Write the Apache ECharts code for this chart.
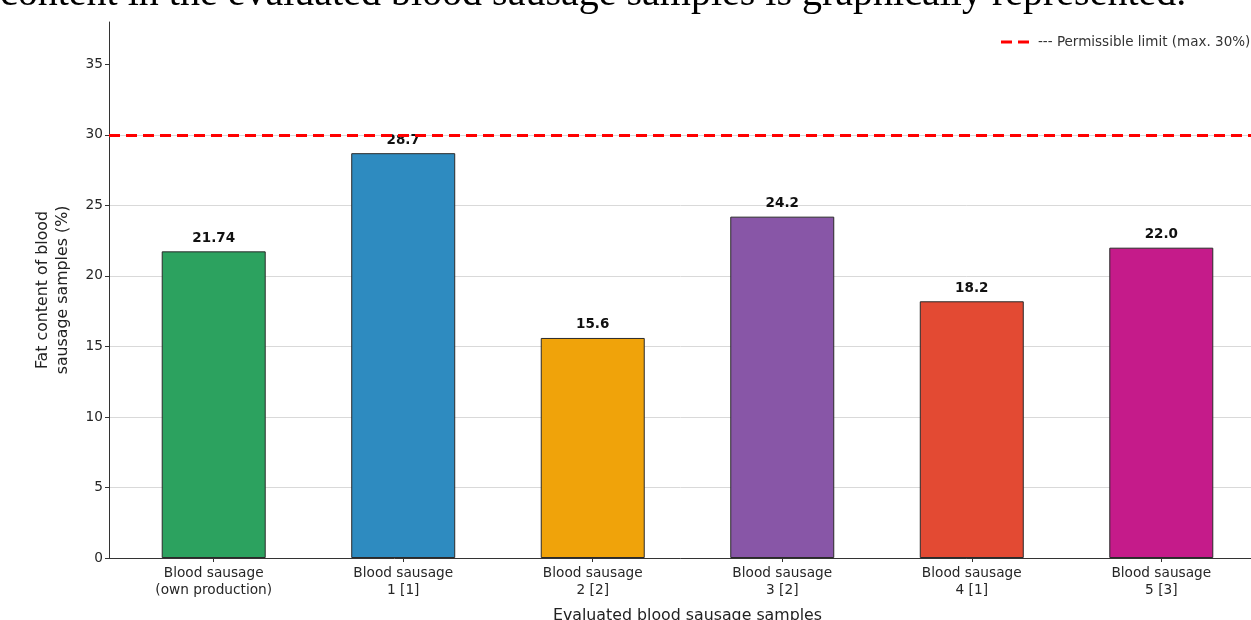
<!DOCTYPE html>
<html>
<head>
<meta charset="utf-8">
<script src="https://cdn.jsdelivr.net/npm/echarts@6/dist/echarts.min.js"></script>
<style>
  html, body { margin: 0; padding: 0; background: #fff; }
  #chart { width: 1251px; height: 620px; }
</style>
</head>
<body>
<div id="chart"></div>
<script>
// data
const categories = [
  'Blood sausage\n(own production)',
  'Blood sausage\n1 [1]',
  'Blood sausage\n2 [2]',
  'Blood sausage\n3 [2]',
  'Blood sausage\n4 [1]',
  'Blood sausage\n5 [3]'
]
const fatValues = [21.74, 28.7, 15.6, 24.2, 18.2, 22.0]
const valueLabels = ['21.74', '28.7', '15.6', '24.2', '18.2', '22.0']
const barColors = ['#2ca25f', '#2e8bc0', '#f0a30a', '#8856a7', '#e34a33', '#c51b8a']
const yTicks = [0, 5, 10, 15, 20, 25, 30, 35]
const limitValue = 30
const limitName = '--- Permissible limit (max. 30%)'

const font = 'DejaVu Sans'
const chart = echarts.init(document.getElementById('chart'))

chart.setOption({
  animation: false,
  textStyle: { fontFamily: font },
  graphic: [{
    type: 'text',
    left: 0,
    top: -26,
    style: {
      text: 'content in the evaluated blood sausage samples is graphically represented.',
      font: '40px "Liberation Serif"',
      fill: '#000'
    }
  }],
  legend: {
    left: 996,
    top: 30,
    itemWidth: 28,
    itemHeight: 3,
    textStyle: { fontFamily: font, fontSize: 13.5, color: '#333', padding: [0, 0, 0, 4] },
    data: [{ name: limitName, icon: 'path://M0,0H11V3H0Z M17,0H28V3H17Z', itemStyle: { color: '#ff0000' } }]
  },
  grid: { left: 109, right: -15, top: 22, bottom: 62, outerBoundsMode: 'none', containLabel: false },
  xAxis: {
    type: 'value',
    min: -0.5525,
    max: 5.5525,
    name: 'Evaluated blood sausage samples',
    nameLocation: 'middle',
    nameGap: 50,
    nameTextStyle: { fontSize: 15.8, color: '#222', fontFamily: font },
    axisLine: { onZero: false, lineStyle: { color: '#333', width: 1 } },
    axisTick: { show: true, length: 4, customValues: [0, 1, 2, 3, 4, 5], lineStyle: { color: '#333' } },
    axisLabel: {
      customValues: [0, 1, 2, 3, 4, 5],
      formatter: v => categories[Math.round(v)],
      fontSize: 13.7,
      color: '#262626',
      lineHeight: 17,
      margin: 7
    },
    splitLine: { show: false }
  },
  yAxis: {
    type: 'value',
    min: 0,
    max: 38,
    interval: 5,
    name: 'Fat content of blood\nsausage samples (%)',
    nameLocation: 'middle',
    nameGap: 36,
    nameTextStyle: { fontSize: 15.8, color: '#222', fontFamily: font, lineHeight: 20 },
    axisLine: { show: true, onZero: false, lineStyle: { color: '#333', width: 1 } },
    axisTick: { show: true, length: 4, customValues: yTicks, lineStyle: { color: '#333' } },
    axisLabel: { customValues: yTicks, fontSize: 13.7, color: '#262626', margin: 6 },
    splitLine: { show: true, showMaxLine: false, lineStyle: { color: '#d9d9d9', width: 1 } }
  },
  series: [
    {
      type: 'bar',
      barWidth: 104,
      data: fatValues.map((v, i) => ({
        value: [i, v],
        itemStyle: { color: barColors[i] },
        label: { formatter: valueLabels[i] }
      })),
      itemStyle: { borderColor: '#2a2a2a', borderWidth: 1 },
      label: {
        show: true,
        position: 'top',
        distance: 6,
        fontSize: 13.5,
        fontWeight: 'bold',
        color: '#111',
        fontFamily: font
      },
      z: 2
    },
    {
      type: 'line',
      name: limitName,
      data: [],
      lineStyle: { color: '#ff0000', type: [11, 6], width: 3 },
      itemStyle: { color: '#ff0000' },
      z: 5,
      markLine: {
        silent: true,
        symbol: 'none',
        label: { show: false },
        lineStyle: { color: '#ff0000', type: [11, 6], width: 3 },
        data: [{ yAxis: limitValue }]
      }
    }
  ]
})
</script>
</body>
</html>
